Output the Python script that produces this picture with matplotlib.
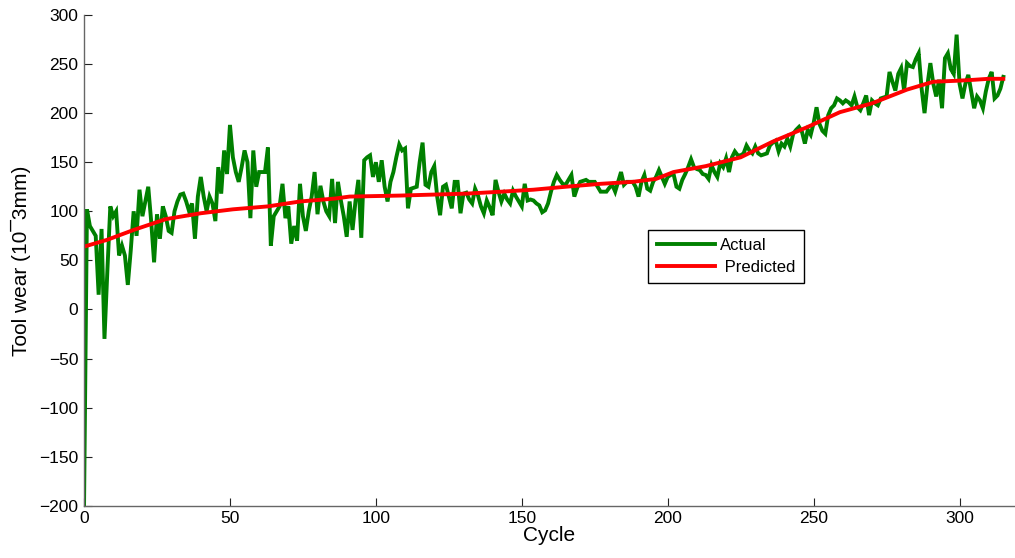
import matplotlib
matplotlib.use("Agg")
import matplotlib.pyplot as plt

# Measured tool wear, one value per machining cycle (0..315)
actual_wear = [
    -200, 102, 85, 80, 75, 15, 82, -30, 40, 105,
    95, 100, 55, 65, 55, 25, 60, 100, 75, 122,
    95, 110, 125, 90, 48, 97, 72, 105, 95, 80,
    78, 100, 110, 117, 118, 110, 100, 108, 72, 115,
    135, 115, 100, 115, 108, 90, 145, 118, 162, 138,
    188, 155, 140, 130, 145, 162, 150, 93, 162, 125,
    140, 140, 140, 165, 65, 95, 100, 105, 128, 93,
    105, 67, 85, 70, 128, 95, 80, 100, 115, 140,
    97, 126, 110, 100, 95, 133, 88, 130, 111, 95,
    74, 110, 81, 110, 132, 73, 152, 155, 157, 135,
    150, 130, 152, 125, 110, 130, 140, 155, 168, 162,
    164, 103, 123, 124, 125, 150, 170, 127, 125, 140,
    146, 115, 96, 125, 127, 115, 103, 130, 130, 98,
    118, 119, 112, 108, 123, 116, 105, 98, 111, 104,
    96, 132, 120, 110, 118, 112, 108, 121, 115, 110,
    105, 128, 111, 112, 111, 108, 106, 99, 101, 108,
    120, 130, 137, 132, 128, 127, 132, 137, 115, 124,
    130, 131, 132, 130, 130, 130, 125, 120, 120, 120,
    124, 127, 120, 130, 140, 127, 130, 130, 130, 125,
    115, 130, 137, 123, 121, 130, 135, 142, 135, 128,
    135, 137, 138, 125, 123, 132, 138, 145, 153, 145,
    143, 142, 138, 137, 133, 147, 140, 135, 149, 145,
    154, 140, 155, 161, 157, 157, 159, 167, 162, 159,
    166, 159, 157, 158, 159, 167, 170, 172, 161, 169,
    166, 174, 166, 179, 183, 186, 181, 169, 183, 178,
    190, 206, 189, 182, 179, 198, 205, 208, 215, 213,
    210, 213, 211, 208, 217, 206, 203, 210, 218, 198,
    213, 210, 208, 215, 216, 217, 242, 232, 223, 240,
    246, 223, 251, 248, 247, 255, 261, 225, 200, 229,
    251, 230, 217, 234, 205, 256, 261, 245, 240, 280,
    230, 215, 230, 239, 222, 205, 217, 213, 205, 222,
    235, 242, 215, 218, 225, 237,
]
actual_cycles = list(range(len(actual_wear)))

# Model prediction at selected cycles
pred_cycles = [0, 8, 17, 28, 40, 51, 63, 74, 86, 91, 108, 131, 143, 154,
               165, 177, 188, 196, 202, 213, 225, 236, 248, 259, 270, 282,
               291, 299, 305, 310, 315]
pred_wear = [64, 71, 81, 92, 98, 102, 105, 110, 113, 115, 116, 118, 120, 122,
             125, 128, 130, 133, 140, 146, 155, 171, 186, 201, 210, 224,
             232, 233, 234, 235, 235]

x_ticks = [0, 50, 100, 150, 200, 250, 300]
y_ticks = [-200, -150, -100, -50, 0, 50, 100, 150, 200, 250, 300]

plt.rcParams['font.family'] = ['Liberation Sans', 'DejaVu Sans']

fig = plt.figure(figsize=(10.15, 5.58), dpi=100)
ax = fig.add_axes([0.0828, 0.0937, 0.9172, 0.8794])

ax.plot(actual_cycles, actual_wear, color='#008000', lw=2.8, label='Actual',
        solid_joinstyle='miter')
ax.plot(pred_cycles, pred_wear, color='#ff0000', lw=2.8, label=' Predicted')

ax.set_xlim(0, 319)
ax.set_ylim(-200, 300)
ax.set_xticks(x_ticks)
ax.set_yticks(y_ticks)

for side in ('top', 'right'):
    ax.spines[side].set_visible(False)
for side in ('left', 'bottom'):
    ax.spines[side].set_color('#666666')
    ax.spines[side].set_linewidth(1.0)

ax.tick_params(direction='in', length=6, width=0.8, color='#222222',
               labelsize=12.5, pad=4)

ax.set_xlabel('Cycle', fontsize=15, labelpad=0)
ax.set_ylabel('Tool wear (10\u00af3mm)', fontsize=15, labelpad=6)

leg = ax.legend(loc='upper left', bbox_to_anchor=(0.606, 0.562),
                borderaxespad=0, fancybox=False, framealpha=1,
                edgecolor='black', fontsize=12, handlelength=3.5,
                handletextpad=0.3, borderpad=0.5, labelspacing=0.4)
leg.get_frame().set_linewidth(1.0)

fig.savefig('out.png', dpi=100)
